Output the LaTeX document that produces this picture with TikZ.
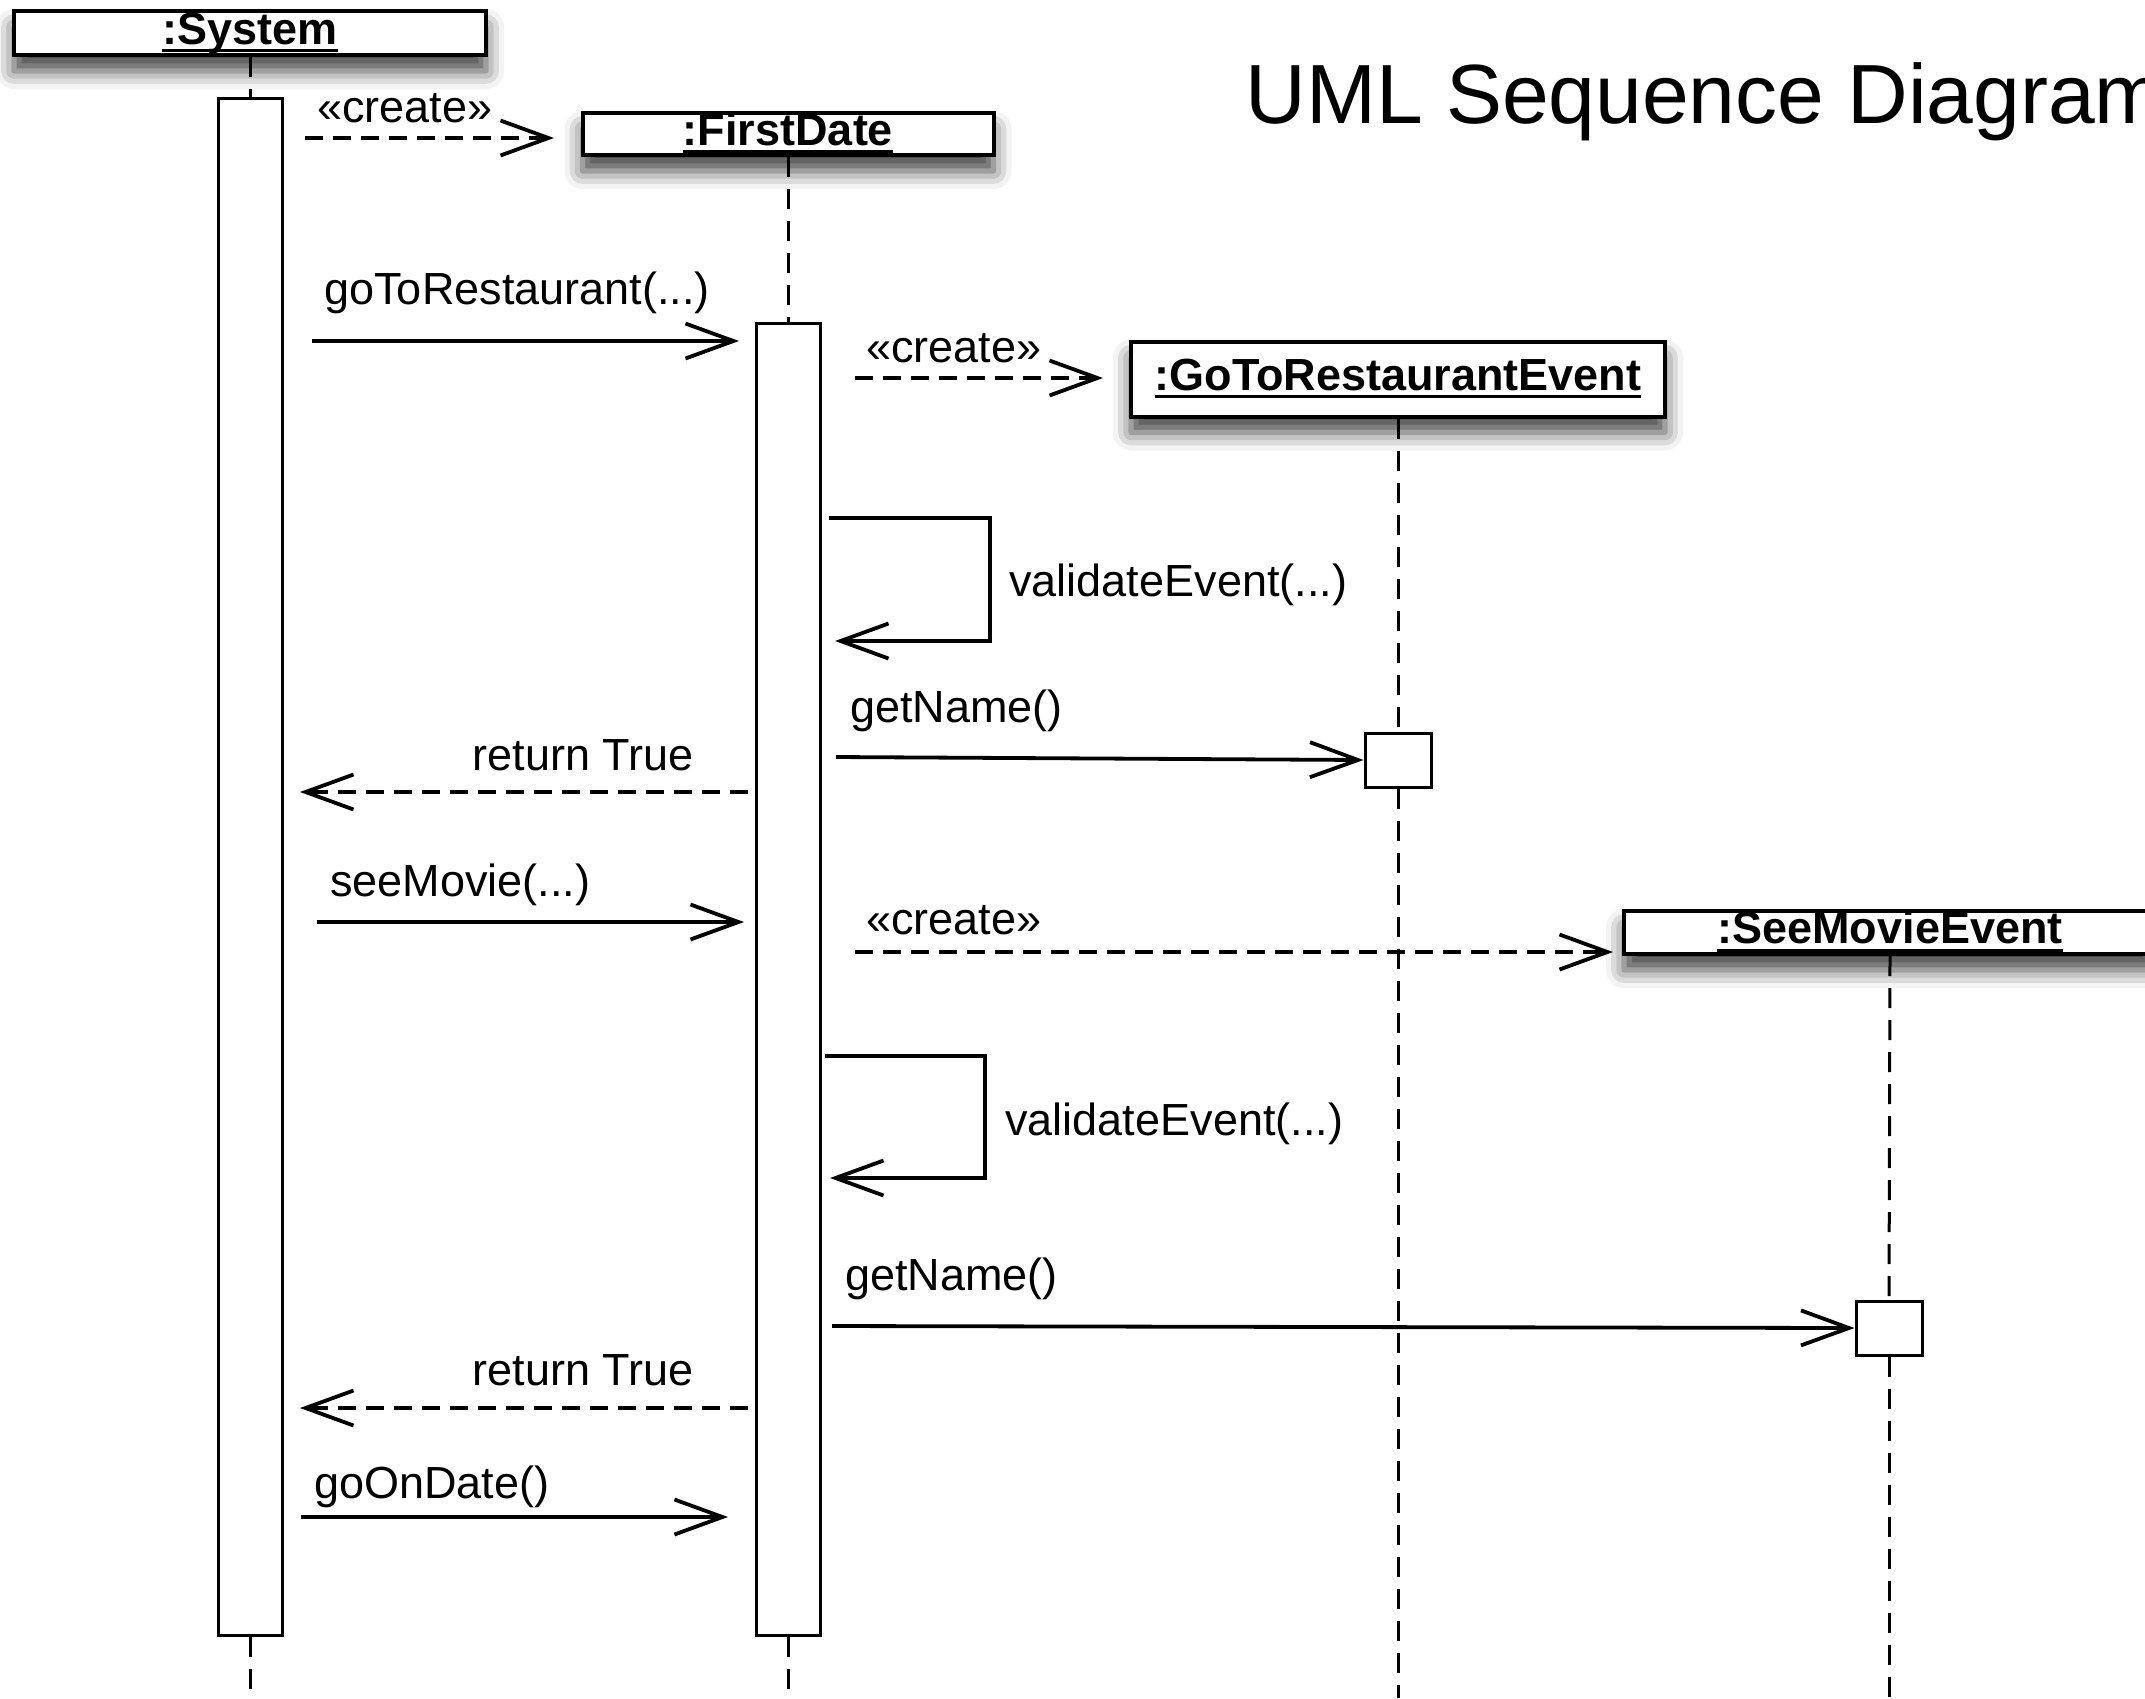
\documentclass[tikz,border=0pt]{standalone}
\usepackage{fontspec}
\setmainfont{Liberation Sans}
\usetikzlibrary{arrows.meta,shadows.blur}
\newcommand\objname[1]{\setbox0\hbox{\bfseries #1}\rlap{\rule[-4pt]{\wd0}{1.5pt}}\box0}
\begin{document}
\begin{tikzpicture}[x=0.5pt,y=-0.5pt,
  lbl/.style={font=\fontsize{22.5}{27}\selectfont, inner sep=0pt, anchor=base west},
  lblr/.style={lbl, anchor=base east},
  objbox/.style={draw, line width=2pt, fill=white, inner sep=0pt, text height=16pt, text depth=5pt,
    font=\fontsize{22.5}{27}\selectfont,
    blur shadow={shadow xshift=0pt, shadow yshift=-8pt, shadow blur radius=9pt, shadow opacity=75}},
  actbox/.style={draw, line width=1.5pt, fill=white, inner sep=0pt},
  lifeline/.style={line width=1.5pt, dash pattern=on 10pt off 6pt},
  msg/.style={line width=1.9pt, -{Straight Barb[length=24pt,width=17.5pt]}},
  ret/.style={msg, dash pattern=on 9pt off 5pt},
]
\useasboundingbox (0,0) rectangle (2145,1698);

% title
\node[anchor=base west, inner sep=0pt, font=\fontsize{42}{50}\selectfont] (title) at (1245,123) {UML Sequence Diagram};

% objects
\node[objbox, minimum width=236pt, minimum height=22pt] (sys) at (250,33) {\objname{:System}};
\node[objbox, minimum width=205.5pt, minimum height=21pt] (fd) at (788,134) {\objname{:FirstDate}};
\node[objbox, minimum width=267pt, minimum height=37.5pt] (gtr) at (1398,379) {\objname{:GoToRestaurantEvent}};
\node[objbox, minimum width=266pt, minimum height=21.5pt] (sme) at (1890,932.5) {\objname{:SeeMovieEvent}};

% activations
\node[actbox, minimum width=32pt, minimum height=768.5pt] (sysact) at (250,866.5) {};
\node[actbox, minimum width=32pt, minimum height=656pt] (fdact) at (788,979) {};
\node[actbox, minimum width=33pt, minimum height=27pt] (gn1) at (1398,760) {};
\node[actbox, minimum width=33pt, minimum height=27pt] (gn2) at (1889,1328) {};

% lifeline ends
\coordinate (sysend) at (250,1698);
\coordinate (fdend) at (788,1698);
\coordinate (gtrend) at (1398,1698);
\coordinate (smeend) at (1889,1698);

\draw[lifeline] (sys.south) -- (sysact.north);
\draw[lifeline] (sysact.south) -- (sysend);
\draw[lifeline] (fd.south) -- (fdact.north);
\draw[lifeline] (fdact.south) -- (fdend);
\draw[lifeline] (gtr.south) -- (gn1.north);
\draw[lifeline] (gn1.south) -- (gtrend);
\draw[lifeline] (sme.south) -- (gn2.north);
\draw[lifeline] (gn2.south) -- (smeend);

% message end points
\coordinate (c1a) at (305,138);  \coordinate (c1b) at (554,138);
\coordinate (m2a) at (312,341);  \coordinate (m2b) at (739,341);
\coordinate (c2a) at (855,378);  \coordinate (c2b) at (1103,378);
\coordinate (s1a) at (829,518);  \coordinate (s1b) at (990,518);
\coordinate (s1c) at (990,641);  \coordinate (s1d) at (835,641);
\coordinate (g1a) at (836,757);
\coordinate (r1a) at (748,792);  \coordinate (r1b) at (300,792);
\coordinate (m7a) at (317,922);  \coordinate (m7b) at (744,922);
\coordinate (c3a) at (855,952);  \coordinate (c3b) at (1613,952);
\coordinate (s2a) at (825,1056); \coordinate (s2b) at (985,1056);
\coordinate (s2c) at (985,1178); \coordinate (s2d) at (830,1178);
\coordinate (g2a) at (832,1326);
\coordinate (r2a) at (748,1408); \coordinate (r2b) at (300,1408);
\coordinate (m12a) at (301,1517); \coordinate (m12b) at (728,1517);

% messages
\draw[ret] (c1a) -- (c1b);
\node[lbl] (l1) at (317,122) {«create»};

\draw[msg] (m2a) -- (m2b);
\node[lbl] (l2) at (324,304) {goToRestaurant(...)};

\draw[ret] (c2a) -- (c2b);
\node[lbl] (l3) at (866,362) {«create»};

\draw[msg] (s1a) -- (s1b) -- (s1c) -- (s1d);
\node[lbl] (l4) at (1009,596) {validateEvent(...)};

\draw[msg] (g1a) -- (gn1.west);
\node[lbl] (l5) at (850,722) {getName()};

\draw[ret] (r1a) -- (r1b);
\node[lblr] (l6) at (694,770) {return True};

\draw[msg] (m7a) -- (m7b);
\node[lbl] (l7) at (330,896) {seeMovie(...)};

\draw[ret] (c3a) -- (c3b);
\node[lbl] (l8) at (866,934) {«create»};

\draw[msg] (s2a) -- (s2b) -- (s2c) -- (s2d);
\node[lbl] (l9) at (1005,1135) {validateEvent(...)};

\draw[msg] (g2a) -- (gn2.west);
\node[lbl] (l10) at (845,1290) {getName()};

\draw[ret] (r2a) -- (r2b);
\node[lblr] (l11) at (694,1385) {return True};

\draw[msg] (m12a) -- (m12b);
\node[lbl] (l12) at (314,1498) {goOnDate()};
\end{tikzpicture}
\end{document}
